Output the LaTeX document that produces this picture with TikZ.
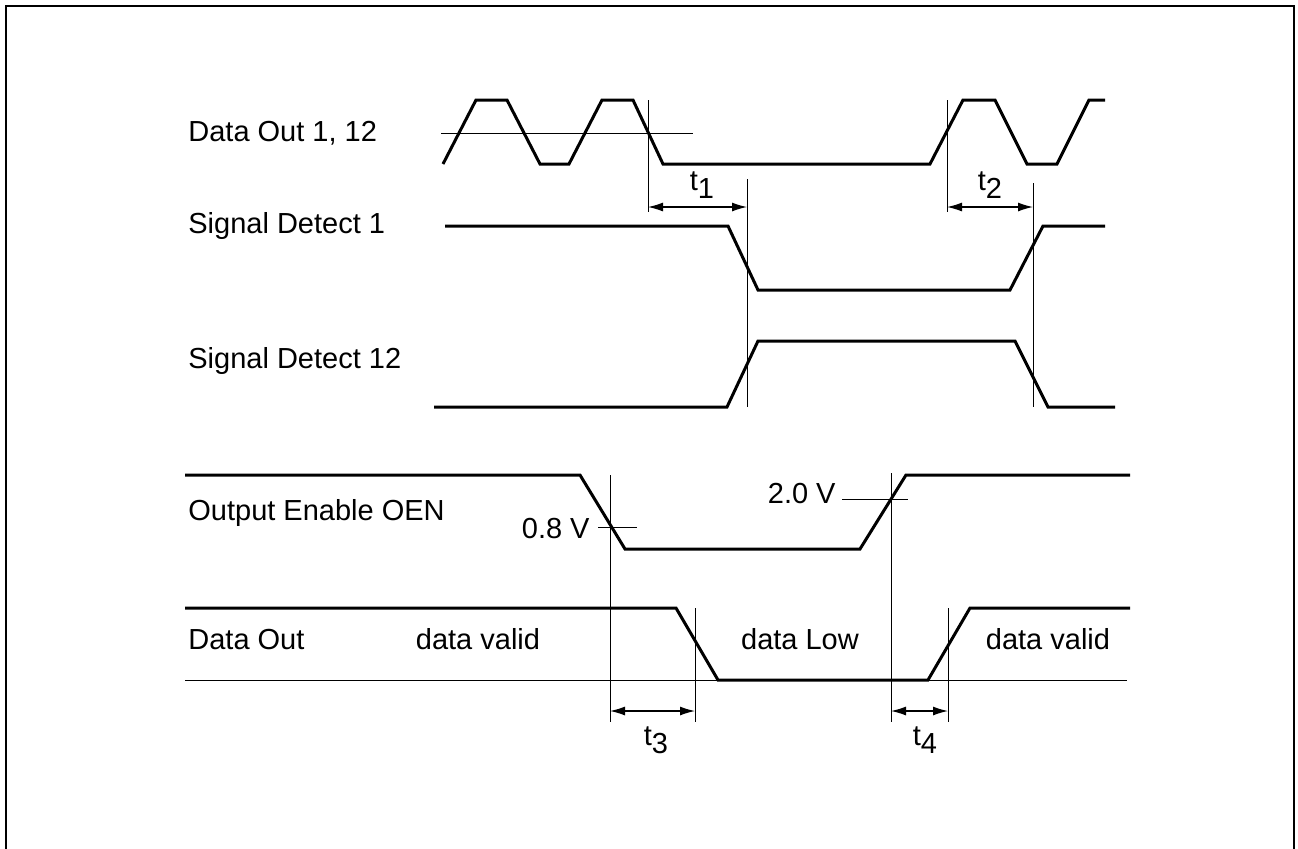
\documentclass[tikz,border=0pt]{standalone}
\usepackage{fontspec}
\setmainfont{Liberation Sans}
\usetikzlibrary{arrows.meta}
\begin{document}
\begin{tikzpicture}[x=0.5pt,y=-0.5pt,
  wave/.style={line width=1.5pt,line join=miter},
  thin/.style={line width=0.5pt},
  frame/.style={line width=1.3pt},
  dim/.style={line width=0.6pt,{Latex[length=7.5pt,width=4.5pt]}-{Latex[length=7.5pt,width=4.5pt]}},
  lbl/.style={anchor=west,inner sep=0pt,font=\fontsize{14.5}{17}\selectfont},
  txt/.style={inner sep=0pt,font=\fontsize{14.5}{17}\selectfont}]
\useasboundingbox (0,0) rectangle (1298,848);
\clip (0,0) rectangle (1298,848);
% frame
\draw[frame] (6,860) -- (6,6) -- (1294,6) -- (1294,860);
% labels
\node[lbl] (ldo) at (188,133) {Data Out 1, 12};
\node[lbl] (lsd1) at (188,226) {Signal Detect 1};
\node[lbl] (lsd12) at (188,361) {Signal Detect 12};
\node[lbl] (loen) at (188,513) {Output Enable OEN};
\node[lbl] (ldout) at (188,640) {Data Out};
% Data Out 1,12
\draw[wave] (443,164) -- (476,100) -- (507,100) -- (540,164) -- (569,164) -- (602,100) -- (633,100) -- (663,164) -- (930,164) -- (963,100) -- (995,100) -- (1027,164) -- (1057,164) -- (1089,100) -- (1105,100);
\draw[thin] (441,133) -- (693,133);
% Signal Detect 1
\draw[wave] (445,226) -- (728,226) -- (758,290) -- (1010,290) -- (1043,226) -- (1105,226);
% Signal Detect 12
\draw[wave] (434,407) -- (727,407) -- (758,341) -- (1015,341) -- (1048,407) -- (1115,407);
% timing verticals t1, t2
\coordinate (a1) at (648,207);
\coordinate (b1) at (747,207);
\coordinate (a2) at (947,207);
\coordinate (b2) at (1033,207);
\draw[thin] (648,100) -- (648,212);
\draw[thin] (747,179) -- (747,407);
\draw[thin] (947,100) -- (947,212);
\draw[thin] (1033,183) -- (1033,407);
\draw[dim] (a1) -- (b1);
\draw[dim] (a2) -- (b2);
\node[txt] (t1) at (702,185) {t\raisebox{-0.55ex}{1}};
\node[txt] (t2) at (990,185) {t\raisebox{-0.55ex}{2}};
% OEN
\draw[wave] (185,475) -- (580,475) -- (625,549) -- (860,549) -- (906,475) -- (1130,475);
\draw[thin] (598,527) -- (637,527);
\draw[thin] (842,499) -- (908,499);
\node[txt,anchor=east] (v08) at (590,529) {0.8 V};
\node[txt,anchor=east] (v20) at (836,494) {2.0 V};
% Data Out
\draw[wave] (185,608) -- (676,608) -- (718,680) -- (928,680) -- (970,608) -- (1130,608);
\draw[thin] (185,680) -- (1127,680);
\node[txt] (dv1) at (478,639) {data valid};
\node[txt] (dl) at (800,639) {data Low};
\node[txt] (dv2) at (1048,639) {data valid};
% verticals t3, t4
\draw[thin] (610,475) -- (610,722);
\draw[thin] (891,473) -- (891,722);
\draw[thin] (695,608) -- (695,722);
\draw[thin] (948,608) -- (948,722);
\coordinate (a3) at (610,711);
\coordinate (b3) at (695,711);
\coordinate (a4) at (891,711);
\coordinate (b4) at (948,711);
\draw[dim] (a3) -- (b3);
\draw[dim] (a4) -- (b4);
\node[txt] (t3) at (656,740) {t\raisebox{-0.55ex}{3}};
\node[txt] (t4) at (925,740) {t\raisebox{-0.55ex}{4}};
\end{tikzpicture}
\end{document}
